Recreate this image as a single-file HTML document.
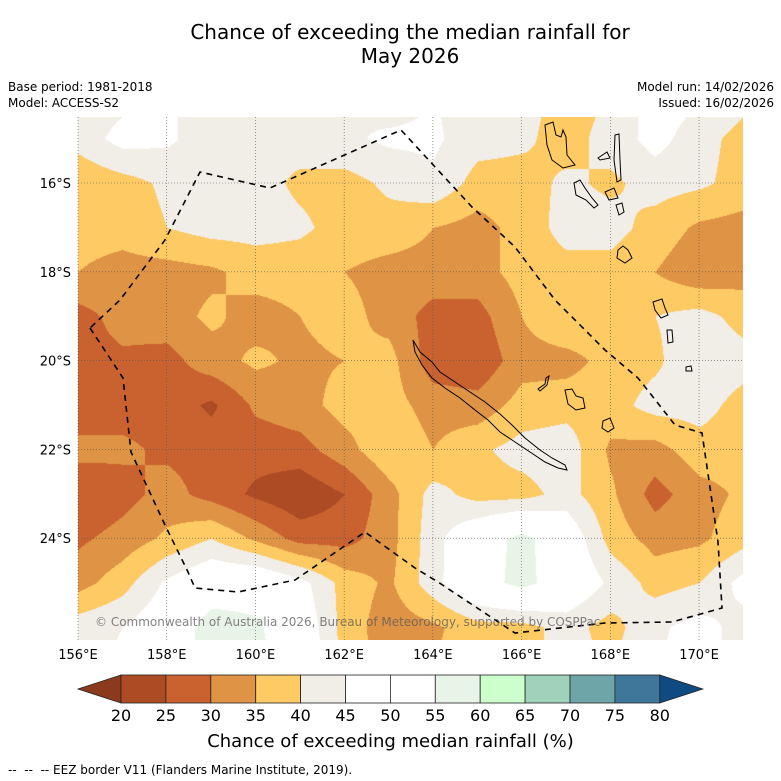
<!DOCTYPE html>
<html><head><meta charset="utf-8">
<style>
body{margin:0;background:#fff;width:781px;height:781px;overflow:hidden;font-family:"Liberation Sans","DejaVu Sans",sans-serif;}
.t{position:absolute;white-space:nowrap;color:#000;}
</style></head><body>
<div style="position:relative;width:781px;height:781px">
<div class="t" style="left:0;width:820px;top:20px;text-align:center;font-size:20px;line-height:24px;font-family:'DejaVu Sans',sans-serif">Chance of exceeding the median rainfall for<br>May 2026</div>
<div class="t" style="left:8px;top:80px;font-size:12px;font-family:'DejaVu Sans',sans-serif">Base period: 1981-2018</div>
<div class="t" style="left:8px;top:96px;font-size:12px;font-family:'DejaVu Sans',sans-serif">Model: ACCESS-S2</div>
<div class="t" style="right:7px;top:80px;font-size:12px;text-align:right;font-family:'DejaVu Sans',sans-serif">Model run: 14/02/2026</div>
<div class="t" style="right:7px;top:96px;font-size:12px;text-align:right;font-family:'DejaVu Sans',sans-serif">Issued: 16/02/2026</div>
<canvas id="map" width="665" height="523" style="position:absolute;left:78px;top:117px"></canvas>
<svg id="ov" width="781" height="781" style="position:absolute;left:0;top:0"></svg>
<div class="t" style="left:95px;top:615px;font-size:12px;color:rgba(90,90,90,0.75);font-family:'DejaVu Sans',sans-serif">© Commonwealth of Australia 2026, Bureau of Meteorology, supported by COSPPac</div>
<div class="t" style="left:0;width:781px;text-align:center;top:731px;font-size:18px;font-family:'DejaVu Sans',sans-serif">Chance of exceeding median rainfall (%)</div>
<div class="t" style="left:8px;top:763px;font-size:12px;font-family:'DejaVu Sans',sans-serif">-- &nbsp;-- &nbsp;-- EEZ border V11 (Flanders Marine Institute, 2019).</div>
</div>
<script>
const lons=[156,157,158,159,160,161,162,163,164,165,166,167,168,169,170,171];
const lats=[14,15,16,17,18,19,20,21,22,23,24,25,26,27];
const r14=[42,43,46,42,42,42,46,42,45,43,42,38,40,48,46,42];
const r15=[42,47,46,42,40,42,44,46,46,42,41,38,42,47,42,38];
const r16=[36,38,41,42,42,39,38,41,44,38,38,41,39,42,41,38];
const r17=[37,37,40,42,42,41,38,38,35,33,37,42,42,38,34,33];
const r18=[35,33,33,34,37,37,35,33,33,33,37,38,38,35,31,33];
const r19=[28,32,33,36,33,35,37,33,28,28,35,40,38,40,42,38];
const r20=[28,29,28,33,36,34,35,37,27,26,33,33,37,39,44,42];
const r21=[26,28,28,24,31,33,37,37,33,32,37,38,38,42,42,38];
const r22=[32,31,29,28,27,28,33,39,35,39,42,43,34,33,38,37];
const r23=[25,28,32,28,24,21,25,33,42,38,38,42,36,28,33,36];
const r24=[29,32,36,40,34,28,28,33,43,51,57,50,38,33,34,38];
const r25=[33,38,46,51,52,47,38,34,43,52,57,51,44,38,40,47];
const r26=[43,45,50,58,56,50,38,32,34,38,38,42,38,44,47,43];
const r27=[44,46,50,58,57,52,38,33,35,38,38,42,40,45,47,43];
const grid=[r14,r15,r16,r17,r18,r19,r20,r21,r22,r23,r24,r25,r26,r27];
const levels=[20,25,30,35,40,45,50,55,60,65,70,75,80];
const colors=["#8c3a1c","#ad4b25","#c9622f","#df9345","#fdca63","#f1ede7","#ffffff","#ffffff","#e9f4e8","#ccffcc","#9fd1bb","#6ea5a8","#3e7799","#0f4a82"];
const cbLabels=["20","25","30","35","40","45","50","55","60","65","70","75","80"];

const X0=78,XPD=44.36,Y16=183,YPD=44.4;
const xOf=l=>X0+(l-156)*XPD, yOf=s=>Y16+(s-16)*YPD;
function colorFor(v){let i=0;while(i<levels.length&&v>=levels[i])i++;return colors[i];}
function hex(c){return [parseInt(c.substr(1,2),16),parseInt(c.substr(3,2),16),parseInt(c.substr(5,2),16)];}
const cv=document.getElementById('map'),ctx=cv.getContext('2d');
const img=ctx.createImageData(665,523);
for(let py=0;py<523;py++){
  const lat=16+(py+117-Y16)/YPD;
  let fj=(lat-lats[0]);fj=Math.max(0,Math.min(lats.length-1.001,fj));
  const j=Math.floor(fj),ty=fj-j;
  for(let px=0;px<665;px++){
    const lon=156+(px)/XPD;
    let fi=lon-lons[0];fi=Math.max(0,Math.min(lons.length-1.001,fi));
    const i=Math.floor(fi),tx=fi-i;
    const v=grid[j][i]*(1-tx)*(1-ty)+grid[j][i+1]*tx*(1-ty)+grid[j+1][i]*(1-tx)*ty+grid[j+1][i+1]*tx*ty;
    const c=hex(colorFor(v));const k=(py*665+px)*4;
    img.data[k]=c[0];img.data[k+1]=c[1];img.data[k+2]=c[2];img.data[k+3]=255;
  }
}
ctx.putImageData(img,0,0);

const NS="http://www.w3.org/2000/svg";const svg=document.getElementById('ov');
function mk(t,a,p){const e=document.createElementNS(NS,t);for(const k in a)e.setAttribute(k,a[k]);(p||svg).appendChild(e);return e;}
const gLons=[156,158,160,162,164,166,168,170];
const gLats=[16,18,20,22,24];
gLons.forEach(l=>{const e=mk('line',{x1:xOf(l),x2:xOf(l),y1:117,y2:640,stroke:'#555','stroke-width':0.6,'stroke-dasharray':'1,2'});


const t=mk('text',{x:xOf(l),y:659,'font-size':13,'text-anchor':'middle','font-family':'DejaVu Sans,sans-serif'});t.textContent=l+'°E';

});
gLats.forEach(s=>{const e=mk('line',{x1:78,x2:743,y1:yOf(s),y2:yOf(s),stroke:'#555','stroke-width':0.6,'stroke-dasharray':'1,2'});


const t=mk('text',{x:71,y:yOf(s)+5,'font-size':13,'text-anchor':'end','font-family':'DejaVu Sans,sans-serif'});t.textContent=s+'°S';

});
const eez=mk('polyline',{points:"90,328 123,378 131,452 165,525 188,572 195,588 238,592 295,580 365,532 415,568 438,582 515,633 605,623 672,622 722,608 718,542 702,433 675,425 638,378 605,350 555,300 515,247 472,207 401,130 270,188 200,172 165,240 120,300 90,328",fill:'none',stroke:'#000','stroke-width':1.6,'stroke-dasharray':'6,5'});


const coasts=["413,340 420,352 432,362 440,372 455,382 470,392 485,402 500,414 512,425 525,438 540,450 552,458 565,465 567,470 558,468 545,462 530,452 515,442 500,432 488,420 475,410 460,398 445,388 432,378 422,365 415,352",
"545,125 553,122 556,135 561,137 563,130 566,137 567,155 575,165 563,168 552,160 547,145",
"574,183 580,180 585,188 592,198 598,205 594,208 586,200 576,195",
"605,192 614,188 618,198 609,200",
"615,135 619,134 620,160 621,180 617,182 614,160",
"598,158 607,152 610,158 600,160",
"616,205 622,203 624,212 619,215",
"618,250 623,246 628,250 632,258 625,263 617,258",
"653,302 662,299 665,308 668,315 661,318 655,310",
"565,390 572,389 576,396 583,398 585,408 576,410 568,404",
"603,421 610,418 614,428 608,432 602,428",
"546,378 549,376 547,385 540,391 538,389 545,384",
"686,367 691,366 692,371 686,371",
"667,330 672,330 673,342 668,343"];
coasts.forEach(p=>{const e=mk('polygon',{points:p,fill:'none',stroke:'#000','stroke-width':1});

});
const cbX0=121,cbW=44.9,cbY=675,cbH=28;
const lt=mk('polygon',{points:`78,${cbY+cbH/2} ${cbX0},${cbY} ${cbX0},${cbY+cbH}`,fill:colors[0],stroke:'#222','stroke-width':0.8});


for(let i=0;i<12;i++){const r=mk('rect',{x:cbX0+i*cbW,y:cbY,width:cbW,height:cbH,fill:colors[i+1],stroke:'#222','stroke-width':0.8});

}
const rx=cbX0+12*cbW;
const rt=mk('polygon',{points:`${rx},${cbY} ${rx+43},${cbY+cbH/2} ${rx},${cbY+cbH}`,fill:colors[13],stroke:'#222','stroke-width':0.8});


cbLabels.forEach((s,i)=>{const t=mk('text',{x:cbX0+i*cbW,y:721,'font-size':16,'text-anchor':'middle','font-family':'DejaVu Sans,sans-serif'});t.textContent=s;

});
</script>
</body></html>
